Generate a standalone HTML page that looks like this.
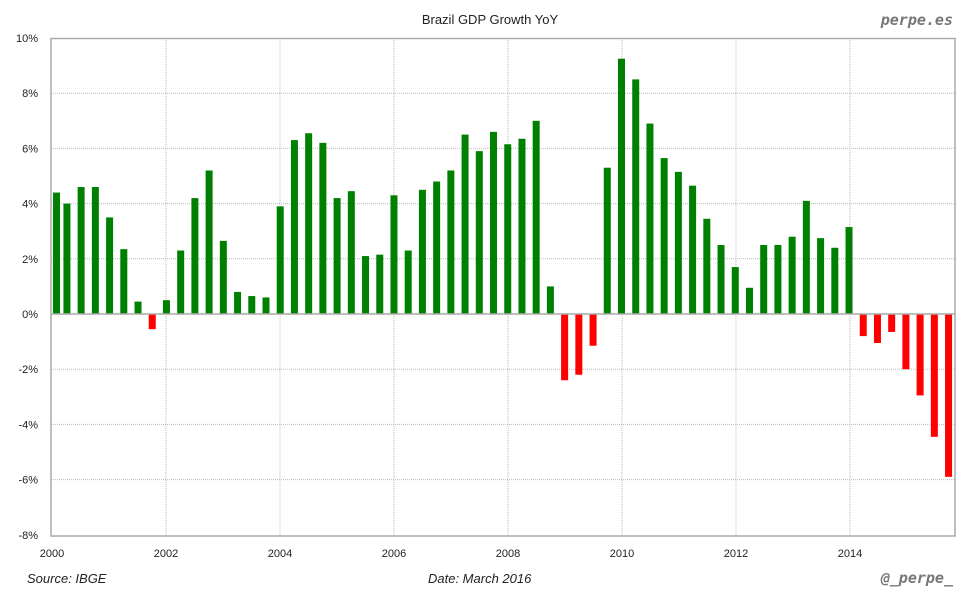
<!DOCTYPE html>
<html><head><meta charset="utf-8"><style>
body{margin:0;background:#fff;}
svg text{font-family:"Liberation Sans",sans-serif;}
</style></head><body>
<svg id="c" width="980" height="600" xmlns="http://www.w3.org/2000/svg">
<defs><clipPath id="pc"><rect x="51" y="38" width="904" height="498"/></clipPath></defs>
<rect width="980" height="600" fill="#fff"/>
<g id="grid"></g>
<g id="bars" clip-path="url(#pc)"></g>
<line x1="51" y1="314" x2="955" y2="314" stroke="#aaa" stroke-width="1.5"/>
<rect x="51" y="38.5" width="904" height="497.5" fill="none" stroke="#aaa" stroke-width="1.5"/>
<text x="490" y="24" font-size="13" text-anchor="middle" fill="#222">Brazil GDP Growth YoY</text>
<text x="953" y="25" font-size="15" font-weight="bold" font-style="italic" text-anchor="end" fill="#777" style="font-family:'DejaVu Sans Mono',monospace">perpe.es</text>
<text x="27" y="583" font-size="13" font-style="italic" fill="#222">Source: IBGE</text>
<text x="428" y="583" font-size="13" font-style="italic" fill="#222">Date: March 2016</text>
<text x="953" y="583" font-size="15" font-weight="bold" font-style="italic" text-anchor="end" fill="#777" style="font-family:'DejaVu Sans Mono',monospace">@_perpe_</text>
</svg>
<script>
var ns="http://www.w3.org/2000/svg";
function el(p,t,a,txt){var e=document.createElementNS(ns,t);for(var k in a)e.setAttribute(k,a[k]);if(txt!=null)e.textContent=txt;p.appendChild(e);return e;}
var g=document.getElementById('grid'),b=document.getElementById('bars');
function Y(v){return 314-v*27.6;}
for(var v=-8;v<=10;v+=2){var y=Y(v);
 if(v!=0&&v!=10&&v!=-8)el(g,'line',{x1:51,x2:955,y1:y,y2:y,stroke:'#bbb','stroke-dasharray':'1,1'});
 el(g,'text',{x:38,y:y+4,'font-size':11,'text-anchor':'end',fill:'#222'},v+'%');}
for(var i=0;i<8;i++){var x=52+i*114;
 if(i>0)el(g,'line',{x1:x,x2:x,y1:38,y2:536,stroke:'#bbb','stroke-dasharray':'1,1'});
 el(g,'text',{x:x,y:557,'font-size':11,'text-anchor':'middle',fill:'#222'},2000+i*2);}
var d=[4.4,4.0,4.6,4.6,3.5,2.35,0.45,-0.55,0.5,2.3,4.2,5.2,2.65,0.8,0.65,0.6,3.9,6.3,6.55,6.2,4.2,4.45,2.1,2.15,4.3,2.3,4.5,4.8,5.2,6.5,5.9,6.6,6.15,6.35,7.0,1.0,-2.4,-2.2,-1.15,5.3,9.25,8.5,6.9,5.65,5.15,4.65,3.45,2.5,1.7,0.95,2.5,2.5,2.8,4.1,2.75,2.4,3.15,-0.8,-1.05,-0.65,-2.0,-2.95,-4.45,-5.9];
d.forEach(function(v,q){var x=49.2+q*14.22;if(q==0)x=53;var y0=Y(Math.max(v,0)),h=Math.abs(v)*27.6;
 el(b,'rect',{x:x,y:y0,width:7,height:h,fill:v>=0?'#008000':'#ff0000'});});
</script>
</body></html>
